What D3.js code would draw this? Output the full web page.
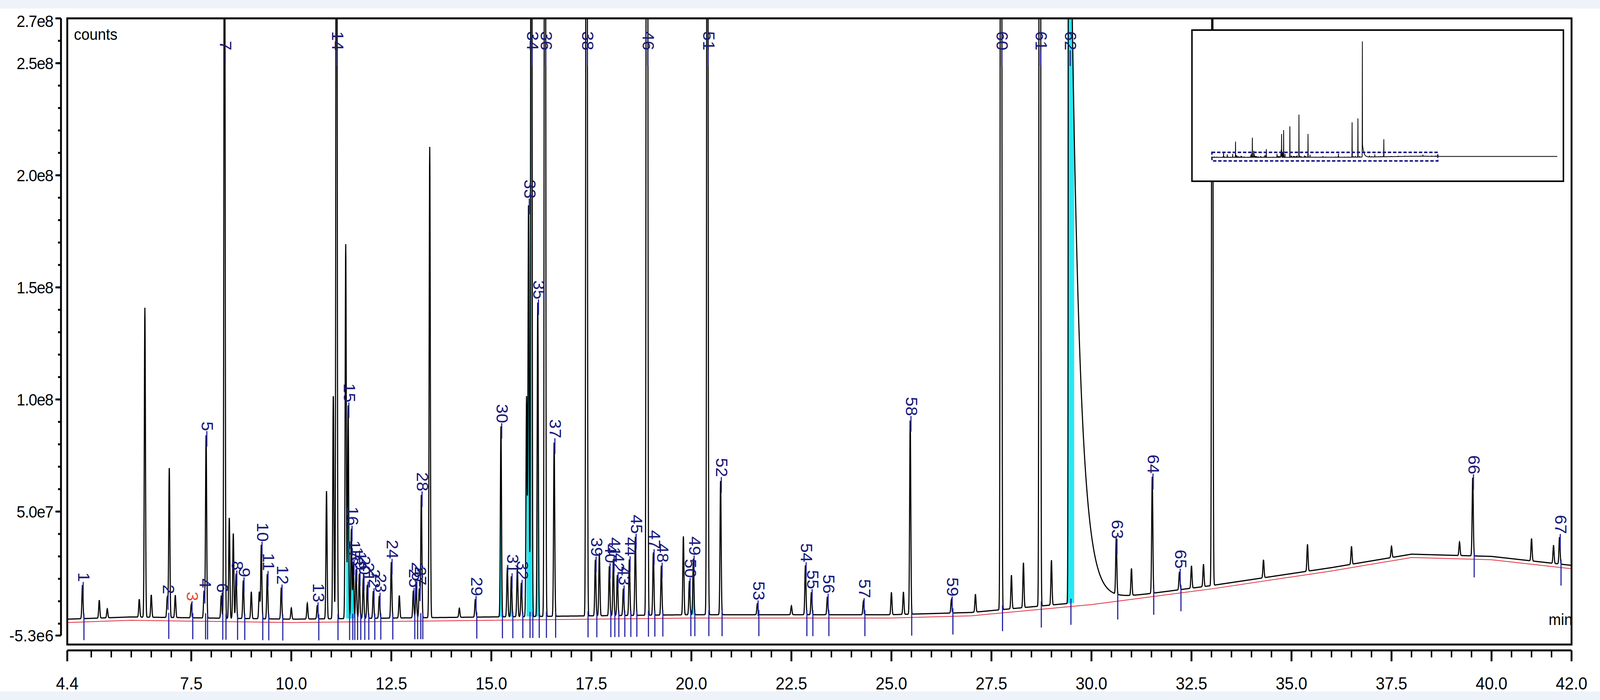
<!DOCTYPE html>
<html><head><meta charset="utf-8">
<script src="https://cdn.jsdelivr.net/npm/d3@7"></script>
<style>html,body{margin:0;padding:0;overflow:hidden;background:#fff}svg{display:block;width:100vw;height:100vh}</style>
</head><body><div id="chart"></div>
<script>
// retention times (min), heights above baseline (counts x1e6), peak numbers
const peakTimes = [4.78,5.2,5.4,6.2,6.34,6.5,6.9,6.95,7.1,7.5,7.82,7.87,8.25,8.33,8.45,8.55,8.62,8.8,9.0,9.2,9.25,9.4,9.75,10.0,10.4,10.65,10.88,11.05,11.13,11.36,11.42,11.5,11.55,11.62,11.7,11.8,11.9,12.05,12.2,12.5,12.7,13.05,13.12,13.2,13.25,13.46,14.2,14.6,15.24,15.4,15.5,15.65,15.75,15.88,15.93,16.0,16.16,16.34,16.57,17.38,17.6,17.7,17.95,18.05,18.15,18.3,18.45,18.6,18.89,19.05,19.25,19.8,19.95,20.05,20.4,20.73,21.65,22.5,22.85,23.0,23.4,24.3,25.0,25.3,25.47,26.5,27.1,27.74,28.0,28.3,28.71,29.0,29.45,30.62,31.0,31.52,32.2,32.5,32.8,33.02,34.3,35.4,36.5,37.5,39.2,39.53,41.0,41.55,41.7];
const peakHeights = [15,8,4,8,138,10,9,67,10,6,12,82,10,400,45,38,20,17,12,12,33,20,14,5,7,6,57,100,500,167,95,40,25,22,20,18,15,12,10,25,10,12,15,13,55,210,4,8,85,22,18,22,15,98,185,600,140,700,78,800,25,28,22,25,18,12,25,35,1100,28,22,35,15,25,600,60,5,4,22,10,8,6,10,10,87,6,8,900,15,20,1000,20,3000,25,12,52,8,10,10,450,8,12,8,5,6,35,10,8,12];
const peakLabels = ["1","","","","","","2","","","3","4","5","6","7","","","8","9","","","10","11","12","","","13","","","14","","15","16","17","18","19","20","21","22","23","24","","25","26","27","28","","","29","30","","31","","32","","33","34","35","36","37","38","39","","40","41","42","43","44","45","46","47","48","","50","49","51","52","53","","54","55","56","57","","","58","59","","60","","","61","","62","63","","64","65","","","","","","","","","66","","","67"];
const cyanLabels = ["15","16","17","30","31","33","34","35","49","62"];
const redLabels = ["3"];
// drifting baseline (counts x1e6)
const baseTimes = [4.4,6,8,10,15,20,25,27,30,33,36,38,40,42];
const baseValues = [2,3,2.5,2,3,4,4,5,10,17,25,31,30,26];
const yTickValues = [-5.3e6,5.0e7,1.0e8,1.5e8,2.0e8,2.5e8,2.7e8];
const yTickLabels = ["-5.3e6","5.0e7","1.0e8","1.5e8","2.0e8","2.5e8","2.7e8"];
const xTickValues = [4.4,7.5,10,12.5,15,17.5,20,22.5,25,27.5,30,32.5,35,37.5,40,42];

const W = 4329, H = 1792;
const L = 182, R = 4252, T = 47, B = 1650;
const svg = d3.select("#chart").append("svg").attr("viewBox", `0 0 ${W} ${H}`)
  .attr("preserveAspectRatio", "none")
  .style("font-family", "Liberation Sans, Arial, sans-serif");
svg.append("rect").attr("x", 0).attr("y", 0).attr("width", W).attr("height", 22).attr("fill", "#eef3fa");
svg.append("rect").attr("x", 0).attr("y", H - 22).attr("width", W).attr("height", 22).attr("fill", "#eef3fa");

const x = d3.scaleLinear().domain([4.4, 42]).range([L, R]);
const y = d3.scaleLinear().domain([-5.3e6, 2.7e8]).range([1627, T]);
const base = d3.scaleLinear().domain(baseTimes).range(baseValues.map(v => v * 1e6));
const sigma = 0.014;
function peakShape(t, i) {
  const d = t - peakTimes[i];
  let v = Math.exp(-d * d / (2 * sigma * sigma));
  if (peakLabels[i] === "62" && d > 0) v = Math.max(v, 0.12 * Math.exp(-d / 0.22));
  return v * peakHeights[i] * 1e6;
}
const trace = d3.range(4.4, 42.0001, 0.004).map(t => {
  let v = base(t);
  for (let i = 0; i < peakTimes.length; i++) {
    if (Math.abs(t - peakTimes[i]) < 0.1 || peakLabels[i] === "62") v += peakShape(t, i);
  }
  return [t, v];
});

svg.append("clipPath").attr("id", "clip").append("rect")
  .attr("x", L).attr("y", T).attr("width", R - L).attr("height", B - T);
const plot = svg.append("g").attr("clip-path", "url(#clip)");

// cyan integration fills
peakTimes.forEach((pt, i) => {
  if (!cyanLabels.includes(peakLabels[i])) return;
  const span = peakLabels[i] === "62" ? [pt - 0.05, pt + 0.12] : [pt - 0.05, pt + 0.05];
  const pts = trace.filter(d => d[0] >= span[0] && d[0] <= span[1]);
  plot.append("path").datum(pts).attr("fill", "#00e5ee").attr("opacity", 0.85)
    .attr("d", d3.area().x(d => x(d[0])).y0(d => y(base(d[0]))).y1(d => y(d[1])));
});
// red integration baseline
plot.append("path").datum(baseTimes.map(t => [t, base(t) - 1.5e6]))
  .attr("fill", "none").attr("stroke", "#e03040").attr("stroke-width", 2)
  .attr("d", d3.line().x(d => x(d[0])).y(d => y(d[1])));

plot.append("path").datum(trace).attr("fill", "none").attr("stroke", "#000").attr("stroke-width", 3)
  .attr("d", d3.line().x(d => x(d[0])).y(d => y(d[1])));

// peak markers and labels
peakTimes.forEach((pt, i) => {
  const lab = peakLabels[i];
  if (!lab) return;
  const px = x(pt), b = y(base(pt));
  plot.append("line").attr("x1", px + 4).attr("x2", px + 4).attr("y1", b - 12).attr("y2", b + 55)
    .attr("stroke", "#2020a0").attr("stroke-width", 3);
  const top = Math.max(y(base(pt) + peakHeights[i] * 1e6), T + 90);
  const ly = top - 8;
  plot.append("line").attr("x1", px + 2).attr("x2", px + 2).attr("y1", ly).attr("y2", ly + 40)
    .attr("stroke", "#2020a0").attr("stroke-width", 3);
  svg.append("text").attr("transform", `translate(${px - 12},${ly}) rotate(90)`)
    .attr("text-anchor", "end").attr("font-size", 44)
    .attr("fill", redLabels.includes(lab) ? "#e8503a" : "#1a1a7a").text(lab);
});

// frame
svg.append("rect").attr("x", L).attr("y", T).attr("width", R - L).attr("height", B - T)
  .attr("fill", "none").attr("stroke", "#000").attr("stroke-width", 5);
svg.append("text").attr("x", 200).attr("y", 102).attr("font-size", 40).text("counts");
svg.append("text").attr("x", 4190).attr("y", 1600).attr("font-size", 40).text("min");

// y axis
const yAxis = svg.append("g");
yAxis.append("line").attr("x1", 165).attr("x2", 165).attr("y1", T).attr("y2", 1627).attr("stroke", "#000").attr("stroke-width", 5);
d3.range(0, 2.7e8, 1e7).forEach(v => {
  yAxis.append("line").attr("x1", 157).attr("x2", 165).attr("y1", y(v)).attr("y2", y(v)).attr("stroke", "#000").attr("stroke-width", 5);
});
yTickValues.forEach((v, i) => {
  yAxis.append("line").attr("x1", 150).attr("x2", 165).attr("y1", y(v)).attr("y2", y(v)).attr("stroke", "#000").attr("stroke-width", 5);
  yAxis.append("text").attr("x", 145).attr("y", y(v) + (i === 6 ? 22 : 15)).attr("text-anchor", "end")
    .attr("font-size", 42).attr("textLength", yTickLabels[i].length * 20).text(yTickLabels[i]);
});

// x axis
const xAxis = svg.append("g").attr("transform", "translate(0,1665)");
xAxis.append("line").attr("x1", L).attr("x2", R).attr("stroke", "#000").attr("stroke-width", 5);
xAxis.call(g => {
  g.selectAll(".minor").data(d3.range(5, 42.01, 0.5)).join("line")
    .attr("x1", d => x(d)).attr("x2", d => x(d)).attr("y1", 0).attr("y2", 18).attr("stroke", "#000").attr("stroke-width", 4);
  g.selectAll(".major").data(xTickValues).join("line")
    .attr("x1", d => x(d)).attr("x2", d => x(d)).attr("y1", 0).attr("y2", 28).attr("stroke", "#000").attr("stroke-width", 5);
  g.selectAll("text").data(xTickValues).join("text")
    .attr("x", d => x(d)).attr("y", 100).attr("text-anchor", "middle").attr("font-size", 44)
    .text(d => d.toFixed(1));
});

// overview inset
const ix = d3.scaleLinear().domain([2, 62]).range([3240, 4215]);
const iy = d3.scaleLinear().domain([0, 3.0e9]).range([403, 105]);
const inset = svg.append("g");
inset.append("rect").attr("x", 3225).attr("y", 77).attr("width", 1005).attr("height", 387)
  .attr("fill", "#fff").attr("stroke", "#000").attr("stroke-width", 4);
const miniTrace = trace.concat(d3.range(42.1, 62, 0.3).map(t => [t, base(42)]));
inset.append("path").datum(miniTrace).attr("fill", "none").attr("stroke", "#000").attr("stroke-width", 2)
  .attr("d", d3.line().x(d => ix(d[0])).y(d => iy(d[1])));
inset.append("rect").attr("x", ix(4.4)).attr("y", 390).attr("width", ix(42) - ix(4.4)).attr("height", 22)
  .attr("fill", "none").attr("stroke", "#1a1a8a").attr("stroke-width", 4).attr("stroke-dasharray", "9,5");
</script></body></html>
